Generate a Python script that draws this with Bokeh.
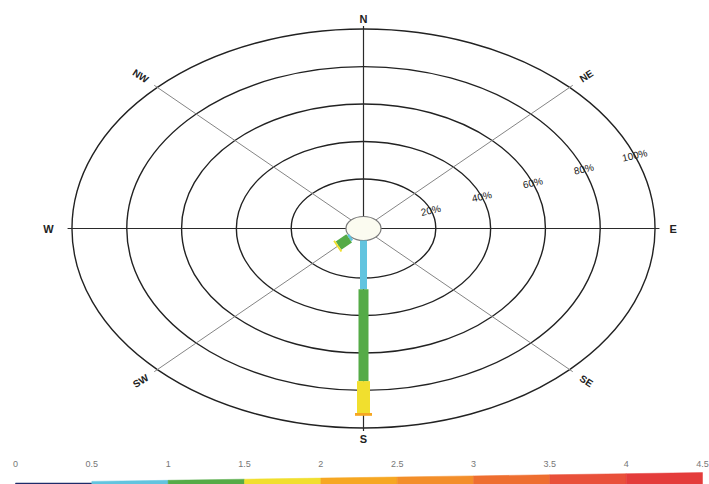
import numpy as np
from bokeh.plotting import figure
from bokeh.layouts import column
from bokeh.embed import file_html
from bokeh.resources import INLINE
from bokeh.core.properties import value

# ---------------- data ----------------
directions = ["N", "NE", "E", "SE", "S", "SW", "W", "NW"]
bearings = [0, 45, 90, 135, 180, 225, 270, 315]
ring_pcts = [20, 40, 60, 80, 100]
ring_labels = ["20%", "40%", "60%", "80%", "100%"]

speed_edges = [0, 0.5, 1, 1.5, 2, 2.5, 3, 3.5, 4, 4.5]
speed_tick_labels = ["0", "0.5", "1", "1.5", "2", "2.5", "3", "3.5", "4", "4.5"]
bin_colors = ["#1f2d6b", "#62c4df", "#55ab47", "#f1df2e", "#f6a722",
              "#f38e2a", "#ee6e30", "#e9503a", "#e43c3b"]
bin_widths = [2, 7, 10, 13, 17, 19, 21, 23, 25]

# frequency (%) per speed bin for the directions that have any
freq_S = [0, 26, 49, 17, 1.5, 0, 0, 0, 0]
freq_SW = [0, 1.0, 5.5, 0.8, 0, 0, 0, 0, 0]
rose = {"S": freq_S, "SW": freq_SW}

# ---------------- geometry / style ----------------
FONT = value("Liberation Sans")
H = 6.4            # calm-hole radius (in % units)
SX, SY = 2.74, 1.875
W, HM = 709, 445
CX, CY = 363, 228

p = figure(width=W, height=HM, output_backend="svg", toolbar_location=None,
           x_range=(-CX / SX, (W - CX) / SX), y_range=(-(HM - CY) / SY, CY / SY),
           min_border=0)
p.axis.visible = False
p.grid.visible = False
p.outline_line_color = None
p.background_fill_color = "white"

def pol(r, b):
    t = np.radians(b)
    return r * np.sin(t), r * np.cos(t)

# rings
rr = [2 * (H + v) for v in ring_pcts]
p.ellipse(x=[0] * len(rr), y=[0] * len(rr), width=rr, height=rr,
          fill_color=None, line_color="#222222", line_width=1.4)

# spokes
R_END = 108
for b in bearings:
    x0, y0 = pol(H, b)
    x1, y1 = pol(R_END, b)
    diag = b % 90 != 0
    p.segment(x0=[x0], y0=[y0], x1=[x1], y1=[y1],
              line_color="#858585" if diag else "#2a2a2a",
              line_width=1.0 if diag else 1.2)

# hole
p.ellipse(x=[0], y=[0], width=[2 * H], height=[2 * H],
          fill_color="#fbfbf0", line_color="#7a7a7a", line_width=1.2)

# rose bars
for d, freqs in rose.items():
    b = bearings[directions.index(d)]
    cum = 0.0
    for i, f in enumerate(freqs):
        if f <= 0:
            continue
        x0, y0 = pol(H + cum, b)
        x1, y1 = pol(H + cum + f, b)
        p.segment(x0=[x0], y0=[y0], x1=[x1], y1=[y1], line_color=bin_colors[i],
                  line_width=bin_widths[i], line_cap="butt")
        cum += f

# ring labels
LB = 68.5
lx, ly = [], []
for v in ring_pcts:
    x, y = pol(H + v, LB)
    lx.append(x); ly.append(y)
p.text(x=lx, y=ly, text=ring_labels, angle=np.radians(13), text_align="center",
       text_baseline="middle", text_font=FONT, text_font_size="10px", text_color="#222222")

# compass labels
R_LAB = {0: 112, 180: 112, 90: 113, 270: 115}
for d, b in zip(directions, bearings):
    if b % 90 == 0:
        x, y = pol(R_LAB[b], b)
        p.text(x=[x], y=[y], text=[d], text_align="center", text_baseline="middle",
               text_font=FONT, text_font_size="11px", text_font_style="bold",
               text_color="#222222")
    else:
        x, y = pol(115, b)
        ang = 33 if b in (45, 225) else -33
        p.text(x=[x], y=[y], text=[d], angle=np.radians(ang), text_align="center",
               text_baseline="middle", text_font=FONT, text_font_size="10px",
               text_font_style="bold", text_color="#222222")

# ---------------- colour wedge legend ----------------
HC = 39
S0 = 15
SC = 687 / 4.5
cb = figure(width=W, height=HC, output_backend="svg", toolbar_location=None,
            x_range=(-S0 / SC, (W - S0) / SC), y_range=(0, HC), min_border=0)
cb.axis.visible = False
cb.grid.visible = False
cb.outline_line_color = None

def top(s):
    return 2.0 + 2.2 * s

xs, ys = [], []
for i in range(len(speed_edges) - 1):
    a, c = speed_edges[i], speed_edges[i + 1]
    if i == 0:
        xs.append([a, c, c, a]); ys.append([0, 0, 1.5, 1.5])
    else:
        xs.append([a, c, c, a]); ys.append([0, 0, top(c), top(a)])
cb.patches(xs=xs, ys=ys, fill_color=bin_colors, line_color=bin_colors, line_width=0.5)
cb.text(x=speed_edges, y=[21] * len(speed_edges), text=speed_tick_labels,
        text_align="center", text_baseline="middle", text_font=FONT,
        text_font_size="9px", text_color="#777777")

layout = column(p, cb, spacing=0)
open("out.html", "w").write(file_html(layout, INLINE))
